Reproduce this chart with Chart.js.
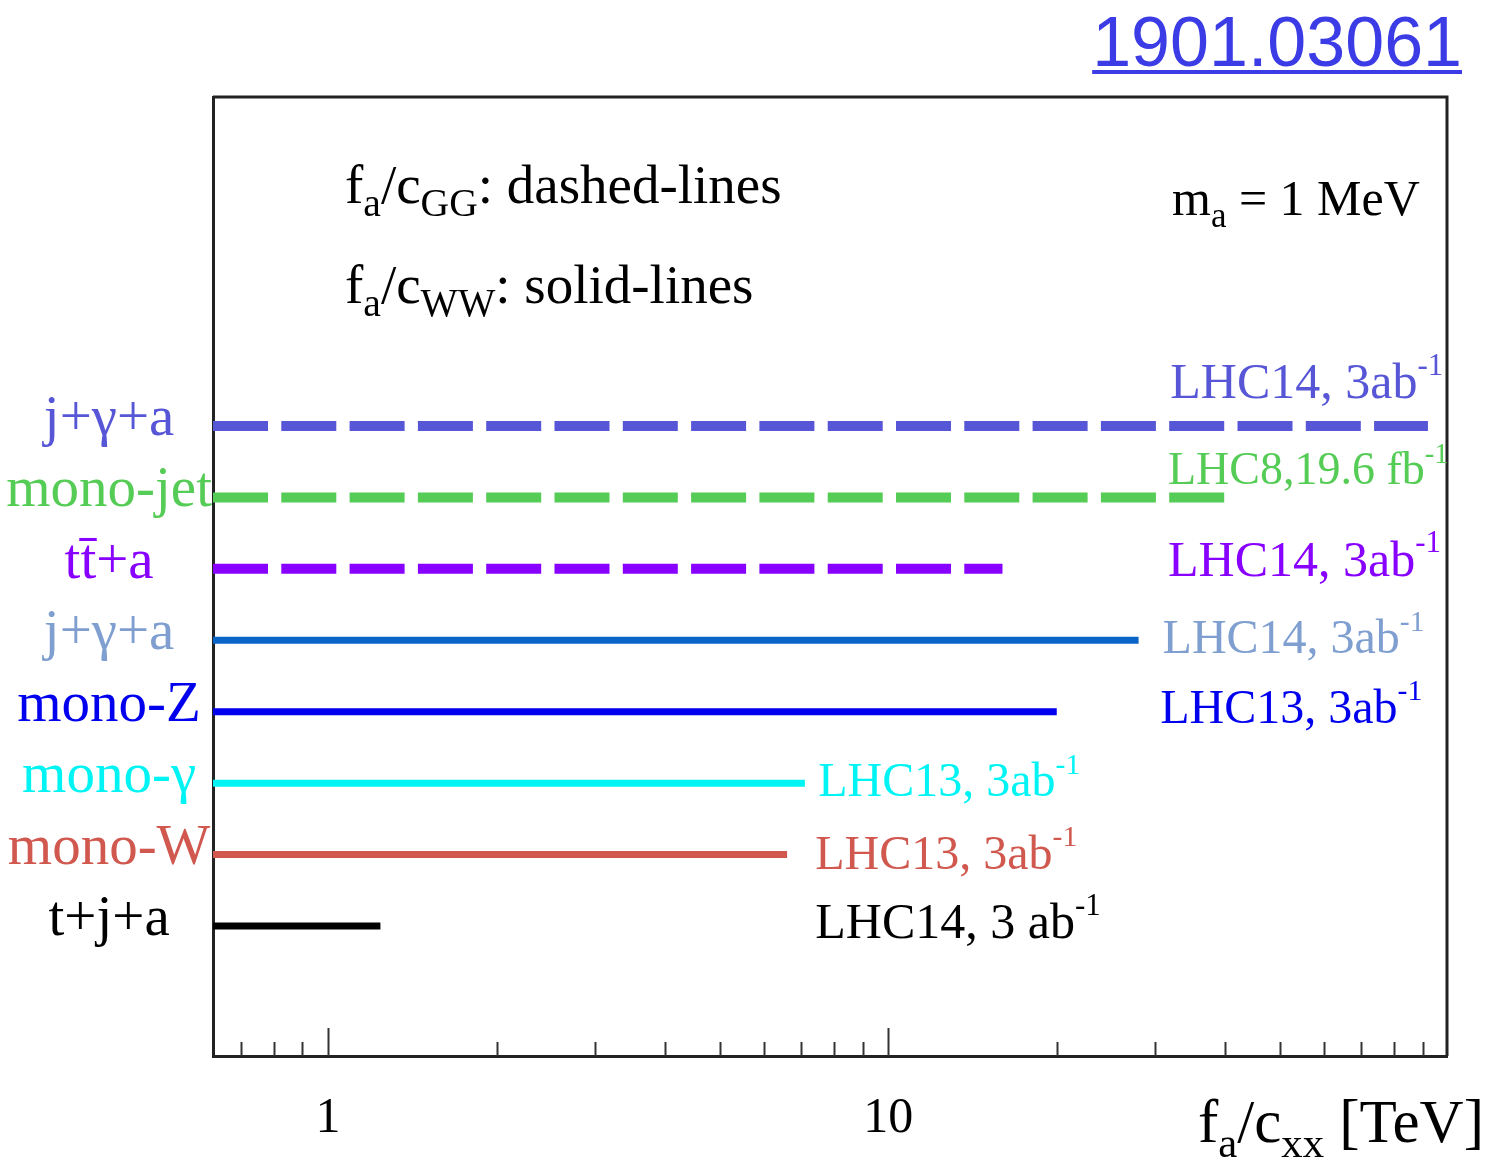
<!DOCTYPE html>
<html>
<head>
<meta charset="utf-8">
<title>ALP search reach</title>
<script src="https://cdn.jsdelivr.net/npm/chart.js@4.4.0/dist/chart.umd.min.js"></script>
<style>
  html, body { margin: 0; padding: 0; background: #fff; }
  #wrap { width: 1491px; height: 1158px; }
</style>
</head>
<body>
<div id="wrap"><canvas id="reach" width="1491" height="1158"></canvas></div>
<script>
// channels from top to bottom, with the reach in f_a/c_xx [TeV]
const channels = ['j+γ+a', 'mono-jet', 'tt̄+a', 'j+γ+a', 'mono-Z', 'mono-γ', 'mono-W', 't+j+a'];
const reachTeV = [92, 40, 16, 28, 20, 7.1, 6.6, 1.24];
const coupling = ['GG', 'GG', 'GG', 'WW', 'WW', 'WW', 'WW', 'WW'];   // GG -> dashed, WW -> solid
const runLabel = ['LHC14, 3ab', 'LHC8,19.6 fb', 'LHC14, 3ab', 'LHC14, 3ab', 'LHC13, 3ab', 'LHC13, 3ab', 'LHC13, 3ab', 'LHC14, 3 ab'];
const xLabelValues = [1, 10];
const xMinorValues = [0.7, 0.8, 0.9, 2, 3, 4, 5, 6, 7, 8, 9, 20, 30, 40, 50, 60, 70, 80, 90];

const X_MIN = 0.623, X_MAX = 99.5;

// styling
const lineColors  = ['#5656d6', '#55cc55', '#8800ff', '#0a64c8', '#0000ee', '#00f4f4', '#d0584f', '#000000'];
const labelColors = ['#5656d6', '#55cc55', '#8800ff', '#7f9fd0', '#0000ee', '#00f4f4', '#d0584f', '#000000'];
// where the run labels sit: x in TeV, baseline offset in px from the line, font size
const noteAt   = [31.9, 31.6, 31.6, 30.9, 30.6, 7.5, 7.41, 7.41];
const noteDy   = [-28, -13, 7, 13, 11, 13, 14, 12];
const noteSize = [50, 46, 50, 48, 48, 48, 48, 50];

const SERIF = '"Liberation Serif", "Times New Roman", serif';

// draws text pieces; mode 1 = subscript, 2 = superscript
function drawRich(ctx, x, y, parts, size, color, small = 0.62) {
  ctx.fillStyle = color;
  ctx.textAlign = 'left';
  ctx.textBaseline = 'alphabetic';
  let cx = x;
  for (const [t, mode] of parts) {
    const s = mode ? size * small : size;
    ctx.font = s + 'px ' + SERIF;
    const dy = mode === 1 ? size * 0.24 : mode === 2 ? -size * 0.47 : 0;
    ctx.fillText(t, cx, y + dy);
    cx += ctx.measureText(t).width;
  }
  return cx;
}

const datasets = channels.map((name, i) => ({
  label: name,
  data: [{ x: X_MIN, y: i }, { x: reachTeV[i], y: i }],
  borderColor: lineColors[i],
  borderWidth: coupling[i] === 'GG' ? 10 : 7,
  borderDash: coupling[i] === 'GG' ? [55, 13.3] : [],
  borderCapStyle: 'butt',
  pointRadius: 0,
  fill: false,
  tension: 0
}));

const decorations = {
  id: 'decorations',
  afterDraw(chart) {
    const { ctx, chartArea: a, scales: { x, y } } = chart;
    ctx.save();

    // top and right edges of the frame
    ctx.strokeStyle = '#222';
    ctx.lineWidth = 3;
    ctx.beginPath();
    ctx.moveTo(a.left, a.top);
    ctx.lineTo(a.right, a.top);
    ctx.lineTo(a.right, a.bottom);
    ctx.stroke();

    // inward ticks on the log axis
    ctx.lineWidth = 2;
    ctx.strokeStyle = '#333';
    const tick = (v, len) => {
      const px = Math.round(x.getPixelForValue(v)) + 0.5;
      ctx.beginPath();
      ctx.moveTo(px, a.bottom);
      ctx.lineTo(px, a.bottom - len);
      ctx.stroke();
    };
    xLabelValues.forEach(v => tick(v, 28));
    xMinorValues.forEach(v => tick(v, 14));

    // run / luminosity labels
    channels.forEach((_, i) => {
      const px = x.getPixelForValue(noteAt[i]);
      const py = y.getPixelForValue(i) + noteDy[i];
      drawRich(ctx, px, py, [[runLabel[i], 0], ['-1', 2]], noteSize[i], labelColors[i]);
    });

    // key for line styles and the mass
    drawRich(ctx, 345, 203, [['f', 0], ['a', 1], ['/c', 0], ['GG', 1], [': dashed-lines', 0]], 55, '#000', 0.72);
    drawRich(ctx, 345, 303, [['f', 0], ['a', 1], ['/c', 0], ['WW', 1], [': solid-lines', 0]], 55, '#000', 0.72);
    drawRich(ctx, 1172, 215, [['m', 0], ['a', 1], [' = 1 MeV', 0]], 50, '#000', 0.7);

    // axis title
    drawRich(ctx, 1198, 1142, [['f', 0], ['a', 1], ['/c', 0], ['xx', 1], [' [TeV]', 0]], 61, '#000', 0.7);

    // arXiv id in the corner
    ctx.font = '70px "Liberation Sans", Arial, sans-serif';
    ctx.fillStyle = '#3c3ce6';
    ctx.textAlign = 'right';
    ctx.textBaseline = 'alphabetic';
    ctx.fillText('1901.03061', 1462, 66);
    const w = ctx.measureText('1901.03061').width;
    ctx.fillRect(1462 - w, 70, w, 4);

    ctx.restore();
  }
};

new Chart(document.getElementById('reach'), {
  type: 'line',
  data: { datasets },
  options: {
    responsive: false,
    animation: false,
    layout: { padding: { top: 97, right: 44, bottom: 0, left: 0 } },
    plugins: { legend: { display: false }, tooltip: { enabled: false } },
    scales: {
      x: {
        type: 'logarithmic',
        bounds: 'data',
        min: X_MIN,
        max: X_MAX,
        afterBuildTicks: s => {
          s.ticks = xLabelValues.map(v => ({ value: v }));
          s.min = X_MIN;
          s.max = X_MAX;
        },
        afterFit: s => { s.height = 102; },
        grid: { display: false },
        border: { display: true, color: '#222', width: 3 },
        ticks: {
          autoSkip: false,
          maxRotation: 0,
          padding: 25,
          color: '#000',
          font: { family: SERIF, size: 50 },
          callback: v => String(v)
        }
      },
      y: {
        type: 'linear',
        reverse: true,
        min: -4.606,
        max: 8.82,
        afterBuildTicks: s => { s.ticks = channels.map((_, i) => ({ value: i })); },
        afterFit: s => { s.width = 213; },
        grid: { display: false },
        border: { display: true, color: '#222', width: 3 },
        ticks: {
          crossAlign: 'center',
          padding: -7,
          labelOffset: -6,
          autoSkip: false,
          font: { family: SERIF, size: 57 },
          color: c => labelColors[c.index],
          callback: v => channels[v]
        }
      }
    }
  },
  plugins: [decorations]
});
</script>
</body>
</html>
